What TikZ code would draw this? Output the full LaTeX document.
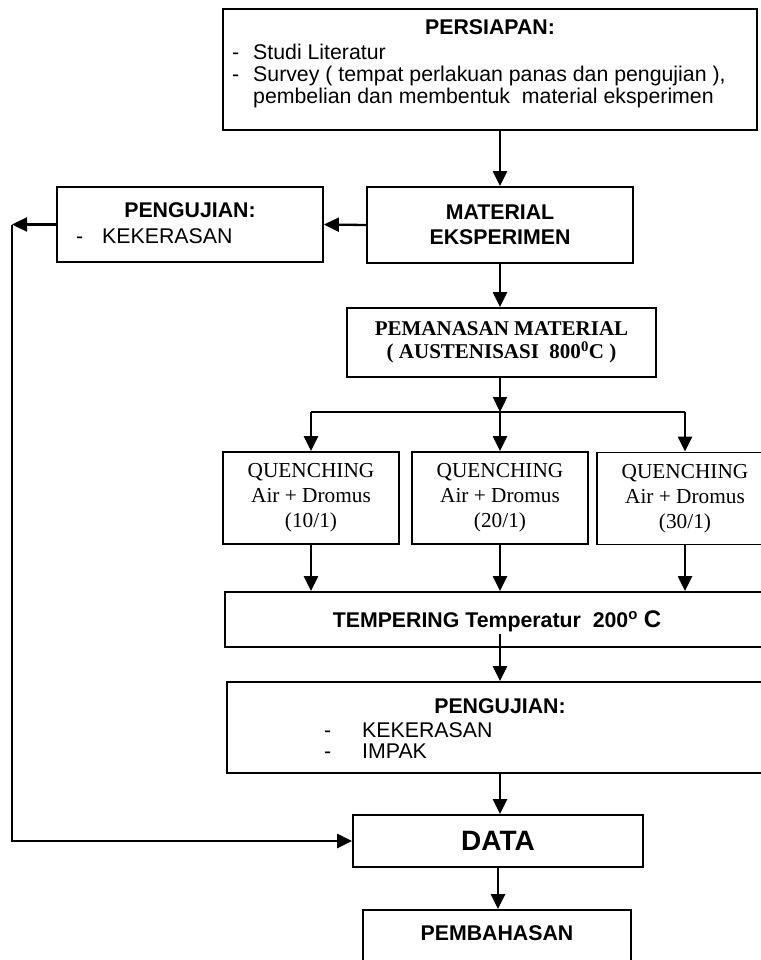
\documentclass[tikz,border=0pt]{standalone}
\usepackage{fontspec}
\setmainfont{Liberation Sans}
\newfontfamily\tms{Liberation Serif}
\usetikzlibrary{arrows.meta}
\begin{document}
\begin{tikzpicture}[x=1pt,y=-1pt,
  box/.style={draw,line width=1.8pt,inner sep=0pt},
  txt/.style={inner sep=0pt,font=\fontsize{21.3}{23.5}\selectfont},
  btxt/.style={inner sep=0pt,font=\fontsize{21.3}{25}\selectfont\bfseries,align=center},
  stxt/.style={inner sep=0pt,font=\fontsize{21.3}{25}\selectfont\tms,align=center},
  sbtxt/.style={inner sep=0pt,font=\fontsize{21}{23}\selectfont\tms\bfseries,align=center},
  arr/.style={line width=2.3pt,-{Triangle[length=15pt,width=14pt]}},
  ln/.style={line width=2.3pt}]
\useasboundingbox (0,0) rectangle (760,960);
% PERSIAPAN
\node[box,minimum width=534pt,minimum height=121pt] (pers) at (490,69.5) {};
\node[btxt,anchor=base] (persT) at (490,35) {PERSIAPAN:};
\node[txt,anchor=base west] (persD1) at (232,60) {-};
\node[txt,anchor=base west] (persL1) at (253,60) {Studi Literatur};
\node[txt,anchor=base west] (persD2) at (232,82) {-};
\node[txt,anchor=base west] (persL2) at (253,82) {Survey ( tempat perlakuan panas dan pengujian ),};
\node[txt,anchor=base west] (persL3) at (253,104) {pembelian dan membentuk\ \ material eksperimen};
% MATERIAL
\node[box,btxt,minimum width=266pt,minimum height=76pt] (mat) at (500,225) {MATERIAL\\EKSPERIMEN};
% PENGUJIAN 1
\node[box,minimum width=266pt,minimum height=75pt] (p1) at (190,224.5) {};
\node[btxt,anchor=base] (p1T) at (190,217) {PENGUJIAN:};
\node[txt,anchor=base west] (p1D) at (76,243) {-};
\node[txt,anchor=base west] (p1L) at (102,243) {KEKERASAN};
% PEMANASAN
\node[box,sbtxt,minimum width=309pt,minimum height=69pt] (pem) at (501.5,342.5) {PEMANASAN MATERIAL\\( AUSTENISASI\ \ 800\textsuperscript{0}C )};
% QUENCHING
\node[box,stxt,minimum width=176pt,minimum height=92pt] (q1) at (311,498) {QUENCHING\\Air + Dromus\\(10/1)};
\node[box,stxt,minimum width=176pt,minimum height=92pt] (q2) at (500,498) {QUENCHING\\Air + Dromus\\(20/1)};
\node[box,stxt,minimum width=176pt,minimum height=92pt] (q3) at (685,498.5) {QUENCHING\\Air + Dromus\\(30/1)};
% TEMPERING
\node[box,minimum width=548pt,minimum height=55pt] (temp) at (499,619.5) {};
\node[btxt,anchor=base] (tempT) at (497,627) {TEMPERING Temperatur\ \ 200\textsuperscript{o} {\fontsize{24}{25}\selectfont C}};
% PENGUJIAN 2
\node[box,minimum width=546pt,minimum height=91pt] (p2) at (500,727.5) {};
\node[btxt,anchor=base] (p2T) at (500,713) {PENGUJIAN:};
\node[txt,anchor=base west] (p2D1) at (324,737) {-};
\node[txt,anchor=base west] (p2L1) at (362,737) {KEKERASAN};
\node[txt,anchor=base west] (p2D2) at (324,758) {-};
\node[txt,anchor=base west] (p2L2) at (362,758) {IMPAK};
% DATA
\node[box,minimum width=290pt,minimum height=52pt,font=\fontsize{28}{30}\selectfont\bfseries] (data) at (498,841) {DATA};
% PEMBAHASAN
\node[box,minimum width=268pt,minimum height=70pt] (pmb) at (497,945) {};
\node[btxt,anchor=base] (pmbT) at (497,940) {PEMBAHASAN};
% connectors
\coordinate (jn) at (500,412);
\coordinate (fb) at (12,0);
\draw[arr] (mat.north |- pers.south) -- (mat.north);
\draw[arr] (mat.west) -- (p1.east);
\draw[arr] (p1.west) -- (p1.west -| fb);
\draw[arr] (p1.west -| fb) |- (data.west);
\draw[arr] (mat.south) -- (mat.south |- pem.north);
\draw[arr] (pem.south -| jn) -- (jn);
\draw[ln] (jn -| q1.north) -- (jn -| q3.north);
\draw[arr] (jn -| q1.north) -- (q1.north);
\draw[arr] (jn) -- (q2.north);
\draw[arr] (jn -| q3.north) -- (q3.north);
\draw[arr] (q1.south) -- (q1.south |- temp.north);
\draw[arr] (q2.south) -- (q2.south |- temp.north);
\draw[arr] (q3.south) -- (q3.south |- temp.north);
\draw[arr] ([yshift=14pt]temp.south -| p2.north) -- (p2.north);
\draw[arr] (p2.south) -- (p2.south |- data.north);
\draw[arr] (data.south) -- (data.south |- pmb.north);
\end{tikzpicture}
\end{document}
